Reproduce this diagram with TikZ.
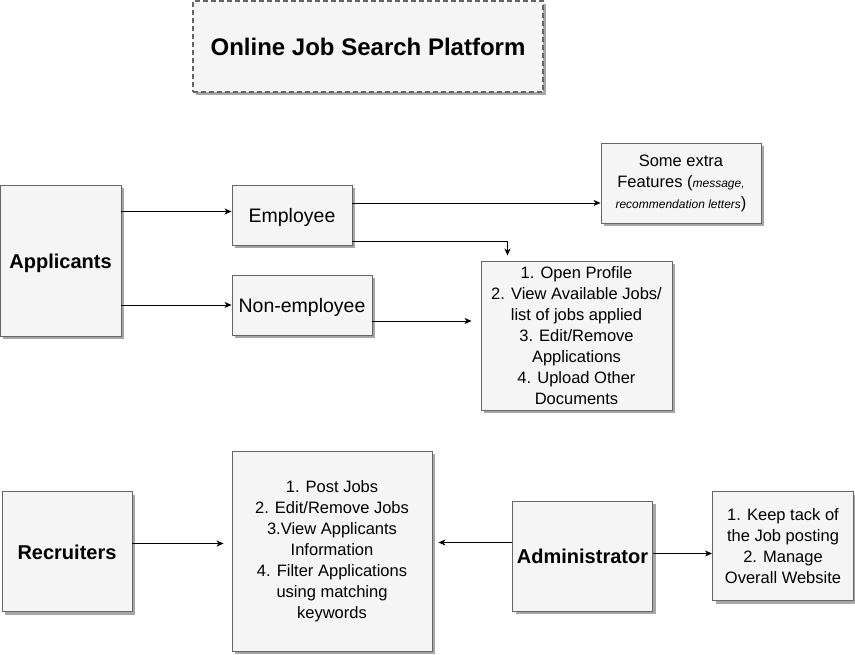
\documentclass[tikz,border=0pt]{standalone}
\usepackage{fontspec}
\setmainfont{Liberation Sans}
\usetikzlibrary{arrows.meta,shadows}
\definecolor{boxfill}{HTML}{F5F5F5}
\definecolor{boxline}{HTML}{666666}

\begin{document}
\begin{tikzpicture}[x=1pt,y=-1pt,
            every node/.style={draw=boxline,fill=boxfill,line width=0.9pt,inner sep=2pt,align=center,
                drop shadow={shadow xshift=3pt,shadow yshift=-3pt,fill=black!35,opacity=1}},
            entity/.style={font=\fontsize{20}{24}\selectfont\bfseries,text height=15.5pt,text depth=0pt},
            role/.style={font=\fontsize{19.5}{24}\selectfont,text height=15.5pt,text depth=0pt},
            feature/.style={font=\fontsize{16.5}{21}\selectfont},
            heading/.style={dash pattern=on 5pt off 3pt,line width=1.4pt,font=\fontsize{24}{28}\selectfont\bfseries},
            link/.style={-{Stealth[length=7pt,width=6pt,inset=2pt]},line width=0.9pt},
            ]
            \useasboundingbox (0,0) rectangle (855,655);

            \node[heading, minimum width=350pt, minimum height=91pt] (title) at (368,46.5) {Online Job Search Platform};

            % applicants side
            \node[entity, minimum width=121pt, minimum height=151pt] (appl) at (60.5,260.5) {Applicants};
            \node[role, minimum width=120pt, minimum height=60pt] (empl) at (292,215) {Employee};
            \node[role, minimum width=140pt, minimum height=60pt] (nonempl) at (302,305) {Non-employee};
            \node[feature, minimum width=160pt, minimum height=80pt] (extra) at (681,183)
                {Some extra\\Features ({\fontsize{12}{14}\selectfont\itshape message,}\\{\fontsize{12}{14}\selectfont\itshape recommendation letters})};
            \node[feature, minimum width=191pt, minimum height=149pt] (applist) at (576.5,335.5)
                {1. Open Profile\\2. View Available Jobs/\\list of jobs applied\\3. Edit/Remove\\Applications\\4. Upload Other\\Documents};

            % recruiters and administrator
            \node[entity, minimum width=130pt, minimum height=120pt] (recr) at (67,551.5) {Recruiters};
            \node[feature, minimum width=200pt, minimum height=200pt] (recrlist) at (332,551)
                {1. Post Jobs\\2. Edit/Remove Jobs\\3.View Applicants\\Information\\4. Filter Applications\\using matching\\keywords};
            \node[entity, minimum width=140pt, minimum height=110pt] (admin) at (582.5,556) {Administrator};
            \node[feature, minimum width=141pt, minimum height=109pt] (adminlist) at (783,546)
                {1. Keep tack of\\the Job posting\\2. Manage\\Overall Website};

            \coordinate (a1) at ([yshift=3.5pt]empl.west);
            \coordinate (e1) at ([yshift=12pt]empl.east);
            \coordinate (e2) at ([yshift=-26pt]empl.east);
            \coordinate (l1) at ([xshift=-69pt,yshift=5pt]applist.north);
            \coordinate (n1) at ([yshift=-16pt]nonempl.east);
            \coordinate (l2) at ([xshift=-9pt]applist.west);
            \coordinate (r1) at ([yshift=8pt]recr.east);
            \coordinate (r2) at ([xshift=-8pt]recrlist.west);
            \coordinate (d1) at ([yshift=13.5pt]admin.west);
            \coordinate (d2) at ([xshift=6pt]recrlist.east);
            \coordinate (d3) at ([yshift=2.5pt]admin.east);

            \draw[link] (appl.east |- a1) -- (a1);
            \draw[link] (appl.east |- nonempl.west) -- (nonempl.west);
            \draw[link] (e1) -- (e1 -| extra.west);
            \draw[link] (e2) -| (l1);
            \draw[link] (n1) -- (n1 -| l2);
            \draw[link] (r1) -- (r1 -| r2);
            \draw[link] (d1) -- (d1 -| d2);
            \draw[link] (d3) -- (d3 -| adminlist.west);
        \end{tikzpicture}
\end{document}
